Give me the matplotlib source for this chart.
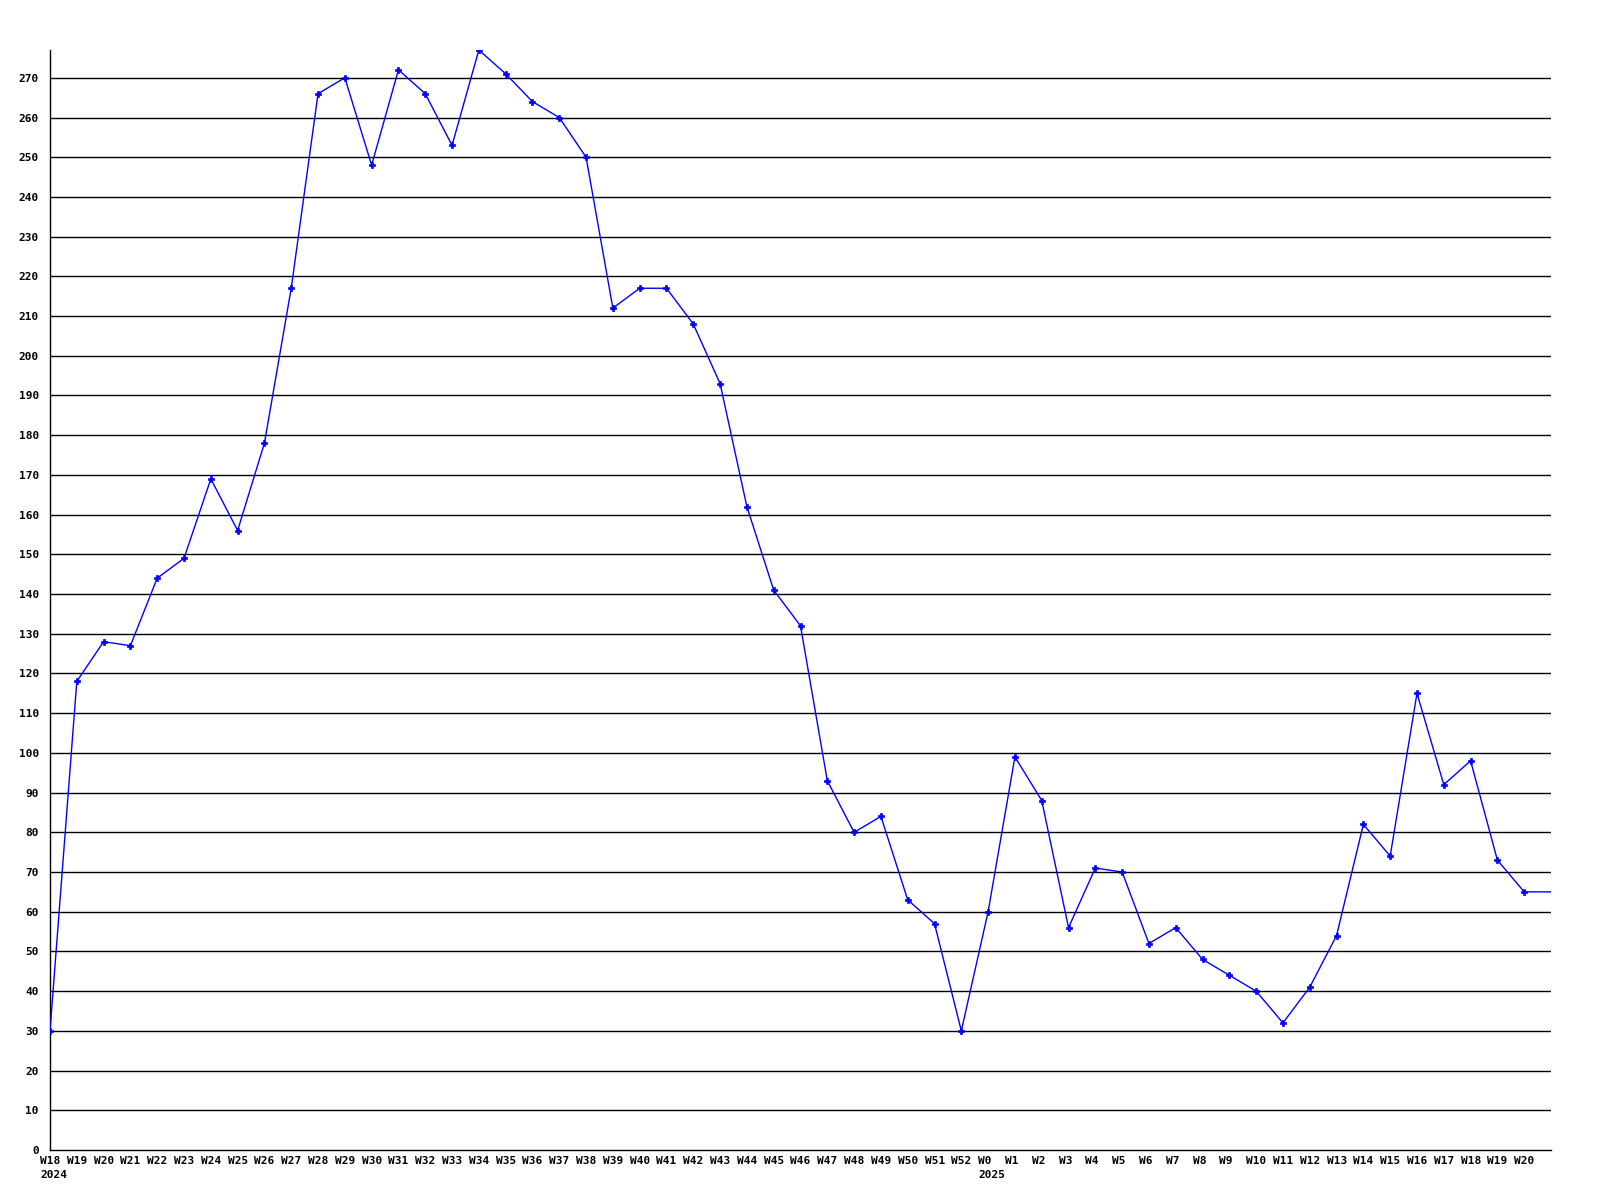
import matplotlib
matplotlib.use("Agg")
import matplotlib.pyplot as plt
import matplotlib.transforms as mtransforms
from matplotlib.font_manager import FontProperties

weeks = ["W18", "W19", "W20", "W21", "W22", "W23", "W24", "W25", "W26", "W27",
         "W28", "W29", "W30", "W31", "W32", "W33", "W34", "W35", "W36", "W37",
         "W38", "W39", "W40", "W41", "W42", "W43", "W44", "W45", "W46", "W47",
         "W48", "W49", "W50", "W51", "W52",
         "W0", "W1", "W2", "W3", "W4", "W5", "W6", "W7", "W8", "W9", "W10",
         "W11", "W12", "W13", "W14", "W15", "W16", "W17", "W18", "W19", "W20"]
year_labels = {0: "2024", 35: "2025"}
values = [30, 118, 128, 127, 144, 149, 169, 156, 178, 217,
          266, 270, 248, 272, 266, 253, 277, 271, 264, 260,
          250, 212, 217, 217, 208, 193, 162, 141, 132, 93,
          80, 84, 63, 57, 30,
          60, 99, 88, 56, 71, 70, 52, 56, 48, 44, 40,
          32, 41, 54, 82, 74, 115, 92, 98, 73, 65]
yticks = list(range(0, 280, 10))

fig = plt.figure(figsize=(16, 12), dpi=100)
ax = fig.add_axes([50/1600, 1 - 1150/1200, (1551 - 50)/1600, (1150 - 50)/1200])

n = len(values)
x = list(range(n))
# line continues flat to the right edge of the plot area
ax.plot(x + [n], values + [values[-1]], color="#0000ff", lw=1.0, zorder=3)
ax.plot(x, values, ls="none", marker="P", ms=4, color="#0000ff",
        mec="#0000ff", mew=0.5, zorder=4)

for v in yticks[1:]:
    ax.axhline(v, color="black", lw=1.0, zorder=1)

ax.set_xlim(0, n)
ax.set_ylim(0, max(values))
ax.set_yticks(yticks)
ax.set_yticklabels([str(v) for v in yticks])
ax.set_xticks([])

fp = FontProperties(family="DejaVu Sans Mono", weight="bold", size=8)
for lab in ax.get_yticklabels():
    lab.set_fontproperties(fp)

trans = mtransforms.blended_transform_factory(ax.transData, ax.transAxes) + \
    mtransforms.ScaledTranslation(-10/100, -6/100, fig.dpi_scale_trans)
for i, w in enumerate(weeks):
    txt = w + ("\n" + year_labels[i] if i in year_labels else "")
    ax.text(i, 0, txt, transform=trans, ha="left", va="top",
            multialignment="left", linespacing=1.5, fontproperties=fp,
            clip_on=False)

ax.tick_params(axis="both", length=0)
ax.tick_params(axis="y", pad=8)
for s in ["top", "right"]:
    ax.spines[s].set_visible(False)
ax.spines["left"].set_color("black")
ax.spines["bottom"].set_color("black")
ax.spines["left"].set_linewidth(1.0)
ax.spines["bottom"].set_linewidth(1.0)

fig.savefig("out.png", dpi=100, facecolor="white")
